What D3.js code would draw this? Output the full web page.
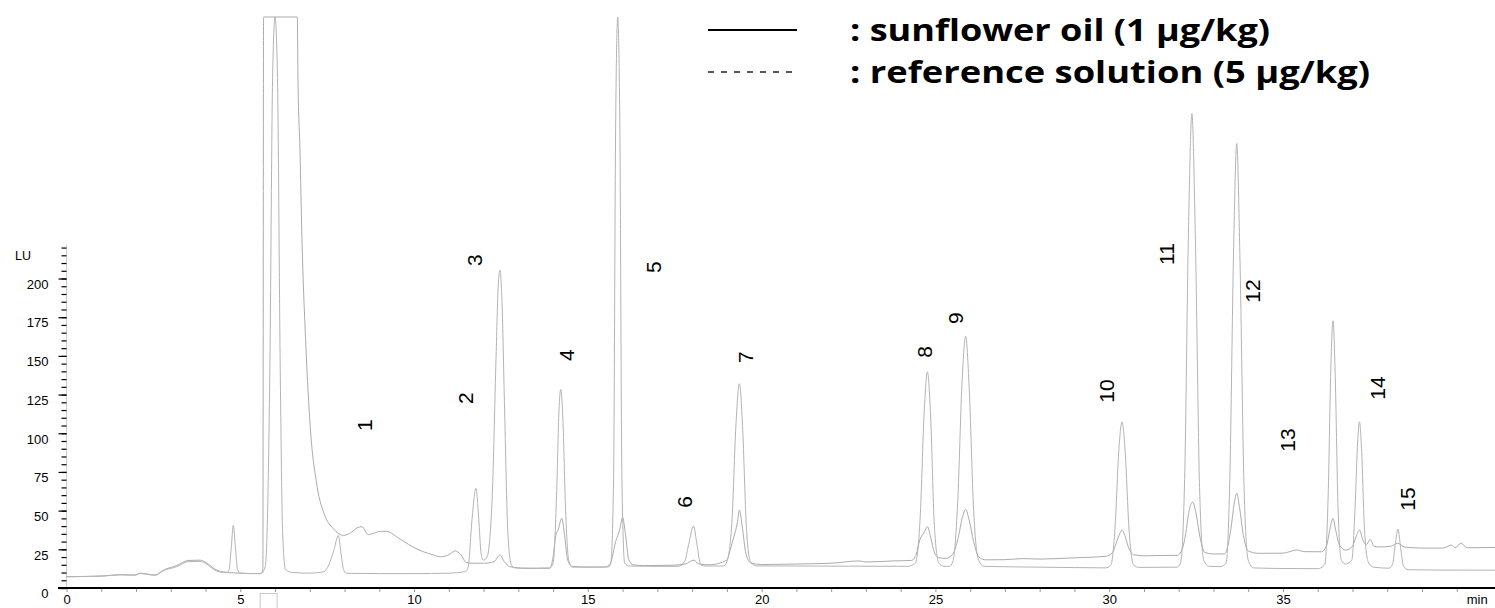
<!DOCTYPE html>
<html>
<head>
<meta charset="utf-8">
<script src="https://cdn.jsdelivr.net/npm/d3@7"></script>
<style>
  html, body { margin: 0; padding: 0; background: #fff; }
  svg { display: block; }
  .tick text { font-family: "Liberation Sans", Arial, sans-serif; }
</style>
</head>
<body>
<svg id="chart" width="1495" height="608"></svg>
<script>
// x ticks (min) and y ticks (LU)
const xTickValues = [0, 5, 10, 15, 20, 25, 30, 35, 40];
const xTickLabels = ['0', '5', '10', '15', '20', '25', '30', '35', 'min'];
const yTickValues = [0, 25, 50, 75, 100, 125, 150, 175, 200];

// sunflower oil (1 µg/kg), [min, LU]
const sunflowerOil = [
  [0, 7.3], [1.05, 7.8], [1.54, 8.6], [1.97, 8.4], [2.12, 9.6], [2.35, 8.9], [2.55, 8.4],
  [2.79, 11.6], [3.17, 14.5], [3.5, 17.8], [3.84, 18.0], [4.03, 16.2], [4.27, 12.2],
  [4.51, 10.4], [4.8, 9.8], [5.2, 9.4], [5.6, 9.3], [5.65, 12], [5.67, 400], [6.64, 400],
  [6.66, 330], [6.72, 281], [6.77, 230], [6.89, 155], [7.01, 105], [7.2, 67], [7.44, 46.5],
  [7.67, 38.5], [7.97, 34], [8.2, 36], [8.37, 39], [8.5, 39.6], [8.68, 34.5], [8.85, 35.5],
  [9.03, 36.6], [9.2, 36.6], [9.6, 31.5], [10.08, 25.2], [10.55, 21.4], [10.75, 20.2],
  [11.0, 21.5], [11.18, 24], [11.35, 21.4], [11.5, 16.5], [11.7, 16], [12.0, 16], [12.3, 17],
  [12.47, 21.3], [12.6, 17], [12.75, 13.8], [13.2, 12.8], [13.9, 12.9],
  [14.0, 20], [14.07, 33], [14.15, 38], [14.25, 45], [14.33, 34], [14.42, 18], [14.55, 14],
  [15.0, 13.5], [15.5, 13.6],
  [15.65, 16], [15.8, 30], [15.92, 38], [16.0, 45.7], [16.08, 35], [16.18, 18], [16.3, 15],
  [16.6, 14.5], [17.5, 14.8], [17.8, 15.5], [18.05, 18], [18.2, 15.5], [18.5, 15],
  [19.0, 18], [19.1, 25], [19.2, 33], [19.3, 42], [19.36, 50.4], [19.44, 40], [19.55, 22],
  [19.7, 16], [20, 15.2], [21, 15.5], [22, 16], [22.8, 17.5], [23.0, 16.8], [23.8, 17.5],
  [24.3, 17.8], [24.45, 22], [24.55, 31], [24.68, 36], [24.77, 39.6], [24.86, 33],
  [24.97, 23], [25.1, 19.5], [25.3, 19.2], [25.5, 22], [25.65, 32], [25.78, 46],
  [25.87, 50.8], [25.97, 44], [26.1, 30], [26.25, 20], [26.45, 18.2], [27, 18.3],
  [27.5, 19], [28, 18.7], [29, 19.5], [29.9, 20.5],
  [30.1, 23], [30.2, 29], [30.3, 35], [30.37, 37.5], [30.45, 34], [30.56, 26], [30.7, 21.5],
  [31, 20.8], [31.5, 21], [31.95, 21.1],
  [32.1, 25], [32.2, 35], [32.3, 50], [32.4, 55.5], [32.5, 48], [32.62, 32], [32.75, 23],
  [33, 22], [33.3, 22],
  [33.4, 26], [33.5, 38], [33.6, 55], [33.67, 61.2], [33.75, 52], [33.86, 34], [34.0, 24],
  [34.3, 22.4], [35, 22.5], [35.4, 24.6], [35.6, 23.5], [36.1, 23.4],
  [36.25, 27], [36.35, 38], [36.44, 45], [36.52, 37], [36.62, 28], [36.8, 24.5],
  [37.0, 27], [37.1, 33], [37.2, 37.5], [37.3, 31], [37.4, 28], [37.51, 31.4], [37.62, 27],
  [37.8, 26.5], [38.1, 27], [38.3, 28.9], [38.5, 26.5], [39, 25.8], [39.6, 25.8],
  [39.85, 27.8], [39.95, 25.9], [40.12, 29], [40.3, 26], [41.1, 26.2]
];

// reference solution (5 µg/kg), [min, LU]
const referenceSolution = [
  [0, 7.3], [1.05, 7.7], [1.54, 8.5], [1.97, 8.3], [2.12, 9.4], [2.35, 8.7], [2.55, 8.2],
  [2.79, 11.2], [3.17, 13.8], [3.5, 17.0], [3.84, 17.2], [4.03, 15.4], [4.27, 11.5],
  [4.51, 10.0], [4.62, 10.0],
  [4.68, 12], [4.74, 26], [4.8, 40.5], [4.86, 26], [4.92, 12], [5.0, 9.6],
  [5.3, 9.3], [5.6, 9.3], [5.72, 14], [5.85, 140], [5.93, 330], [6.0, 450], [6.07, 330],
  [6.15, 140], [6.22, 35], [6.3, 12], [6.5, 10], [7.0, 9.6], [7.4, 10.5],
  [7.55, 15], [7.7, 25], [7.82, 34], [7.9, 22], [7.97, 12], [8.05, 9.5],
  [9, 9.3], [10, 9.3], [11, 9.6], [11.4, 10.3], [11.5, 11],
  [11.56, 14], [11.67, 45], [11.78, 64.4], [11.86, 45], [11.93, 22], [11.99, 18],
  [12.1, 20], [12.25, 60], [12.36, 150], [12.42, 195], [12.47, 205.4], [12.53, 185],
  [12.6, 120], [12.7, 35], [12.8, 15], [12.9, 13], [13.5, 12.6], [13.9, 12.8],
  [14.0, 16], [14.1, 60], [14.17, 115], [14.22, 128.3], [14.28, 110], [14.36, 50],
  [14.45, 18], [14.55, 13.5], [15.0, 13.5], [15.6, 13.6],
  [15.66, 16], [15.74, 70], [15.8, 300], [15.86, 500], [15.92, 300], [15.98, 70],
  [16.06, 16], [16.2, 14.2], [17.0, 14.0], [17.6, 14.0],
  [17.78, 17], [17.9, 28], [18.04, 40], [18.14, 28], [18.25, 15], [18.4, 14.2], [18.9, 14.2],
  [19.0, 17], [19.15, 45], [19.26, 105], [19.36, 132], [19.45, 105], [19.56, 40],
  [19.68, 17], [19.85, 14.3], [21, 14.2], [22.5, 14.1], [24.2, 14.0],
  [24.42, 16], [24.56, 45], [24.68, 115], [24.77, 139.7], [24.86, 112], [24.97, 40],
  [25.1, 16], [25.25, 14], [25.4, 14],
  [25.5, 17], [25.64, 55], [25.77, 135], [25.87, 162.8], [25.97, 130], [26.1, 50],
  [26.24, 18], [26.4, 14], [27.5, 13.6], [29, 13.2], [29.9, 13.0],
  [30.05, 15], [30.17, 40], [30.28, 90], [30.37, 107.4], [30.46, 88], [30.57, 38],
  [30.7, 15], [30.85, 13.3], [31.6, 13.4], [31.95, 13.5],
  [32.05, 16], [32.17, 70], [32.28, 230], [32.38, 306.6], [32.48, 225], [32.6, 65],
  [32.72, 18], [32.88, 14], [33.2, 13.8],
  [33.36, 16], [33.47, 70], [33.58, 220], [33.67, 287.3], [33.76, 215], [33.88, 65],
  [34.0, 18], [34.15, 13], [35, 12.6], [36.0, 12.5],
  [36.2, 15], [36.3, 60], [36.38, 145], [36.44, 172.7], [36.5, 140], [36.58, 55],
  [36.68, 18], [36.8, 15.5],
  [36.98, 18], [37.07, 50], [37.15, 95], [37.2, 107.4], [37.26, 90], [37.34, 40],
  [37.45, 17], [37.6, 13.5], [38.05, 12.8],
  [38.15, 15], [38.23, 28], [38.31, 38.1], [38.38, 27], [38.47, 14], [38.6, 11.8],
  [39.5, 11.6], [41.1, 11.5]
];

// peak numbers: label, time (min), height (LU) of the label centre
const peakNames = ['1', '2', '3', '4', '5', '6', '7', '8', '9', '10', '11', '12', '13', '14', '15'];
const peakLabelTime = [8.56, 11.49, 11.73, 14.40, 16.88, 17.77, 19.53, 24.68, 25.57, 29.91, 31.64, 34.11, 35.12, 37.71, 38.57];
const peakLabelLU = [105.3, 122.7, 211.9, 150.5, 207.4, 55.6, 149.2, 152.5, 174.4, 127.3, 215.8, 191.9, 95.6, 129.2, 57.5];

const legendLabels = [': sunflower oil (1 µg/kg)', ': reference solution (5 µg/kg)'];

const width = 1495, height = 608;
const margin = {left: 66.5, right: 0, top: 17, bottom: 20};

const svg = d3.select('#chart');

const x = d3.scaleLinear()
  .domain([0, 41.1])
  .range([margin.left, width - margin.right]);

// detector saturates at the top of the plot
const y = d3.scaleLinear()
  .domain([0, 369])
  .range([height - margin.bottom, margin.top])
  .clamp(true);

// y axis: light vertical rule, black ticks
svg.append('line')
  .attr('x1', x(0)).attr('x2', x(0))
  .attr('y1', y(0)).attr('y2', y(222))
  .attr('stroke', '#cfcfcf')
  .attr('stroke-width', 1);

const yMinor = d3.range(0, 221, 5);
svg.append('g')
  .attr('transform', 'translate(' + x(0) + ',0)')
  .call(d3.axisLeft(y).tickValues(yMinor).tickSize(5).tickFormat(''))
  .call(g => g.select('.domain').remove())
  .call(g => g.selectAll('.tick line').attr('stroke', '#000').attr('stroke-width', 1.2));

svg.append('g')
  .attr('transform', 'translate(' + x(0) + ',0)')
  .call(d3.axisLeft(y).tickValues(yTickValues).tickSize(8).tickPadding(10))
  .call(g => g.select('.domain').remove())
  .call(g => g.selectAll('.tick line').attr('stroke', '#000').attr('stroke-width', 1.2))
  .call(g => g.selectAll('.tick text')
    .attr('font-size', 13)
    .attr('fill', '#000')
    .attr('dy', '0.75em'));

svg.append('text')
  .attr('x', 15)
  .attr('y', 260)
  .attr('font-family', '"Liberation Sans", Arial, sans-serif')
  .attr('font-size', 12.5)
  .text('LU');

// x axis
const xMinor = d3.range(0, 41, 1);
svg.append('g')
  .attr('transform', 'translate(0,' + y(0) + ')')
  .call(d3.axisBottom(x).tickValues(xMinor).tickSize(4).tickFormat(''))
  .call(g => g.select('.domain').remove())
  .call(g => g.selectAll('.tick line').attr('stroke', '#9a9a9a'));

svg.append('g')
  .attr('transform', 'translate(0,' + y(0) + ')')
  .call(d3.axisBottom(x).tickValues(xTickValues).tickSize(0).tickPadding(7)
    .tickFormat((d, i) => xTickLabels[i]))
  .call(g => g.select('.domain').remove())
  .call(g => g.selectAll('.tick text')
    .attr('font-size', 13)
    .attr('fill', '#000')
    .attr('dx', d => d === 40 ? 20 : 0));

svg.append('line')
  .attr('x1', 58).attr('x2', width)
  .attr('y1', y(0)).attr('y2', y(0))
  .attr('stroke', '#000')
  .attr('stroke-width', 2);

// injection marker box under the axis
svg.append('rect')
  .attr('x', x(5.57))
  .attr('y', y(0) + 5.5)
  .attr('width', x(6.06) - x(5.57))
  .attr('height', 20)
  .attr('fill', 'none')
  .attr('stroke', '#c8c8c8');

// traces
const line = d3.line()
  .x(d => x(d[0]))
  .y(d => y(d[1]))
  .curve(d3.curveMonotoneX);

svg.append('path')
  .datum(sunflowerOil)
  .attr('fill', 'none')
  .attr('stroke', '#ababab')
  .attr('stroke-width', 1)
  .attr('d', line);

svg.append('path')
  .datum(referenceSolution)
  .attr('fill', 'none')
  .attr('stroke', '#b4b4b4')
  .attr('stroke-width', 1)
  .attr('d', line);

// peak numbers, rotated
svg.append('g')
  .selectAll('text')
  .data(peakNames)
  .enter().append('text')
  .attr('transform', (d, i) => 'translate(' + x(peakLabelTime[i]) + ',' + y(peakLabelLU[i]) + ') rotate(-90)')
  .attr('text-anchor', 'middle')
  .attr('dominant-baseline', 'central')
  .attr('font-family', '"Liberation Sans", Arial, sans-serif')
  .attr('font-size', 21)
  .attr('fill', '#000')
  .text(d => d);

// legend
const legend = svg.append('g');
legend.append('line')
  .attr('x1', 708).attr('x2', 797).attr('y1', 30).attr('y2', 30)
  .attr('stroke', '#000').attr('stroke-width', 2);
legend.append('line')
  .attr('x1', 708).attr('x2', 797).attr('y1', 72).attr('y2', 72)
  .attr('stroke', '#222').attr('stroke-width', 1.4)
  .attr('stroke-dasharray', '6,7');

const legendWidths = [420, 520];
legend.selectAll('text')
  .data(legendLabels)
  .enter().append('text')
  .attr('x', 850)
  .attr('y', (d, i) => 41 + i * 42)
  .attr('font-family', '"Open Sans", sans-serif')
  .attr('font-weight', 'bold')
  .attr('font-size', 31)
  .attr('textLength', (d, i) => legendWidths[i])
  .attr('lengthAdjust', 'spacingAndGlyphs')
  .attr('fill', '#000')
  .text(d => d);
</script>
</body>
</html>
